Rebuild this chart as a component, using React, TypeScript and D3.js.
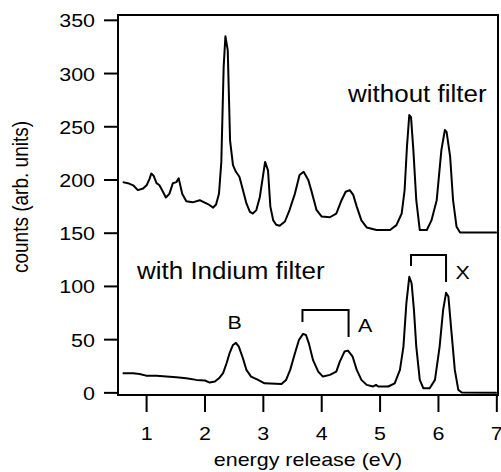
import * as d3 from "d3";

// energy (eV) and counts
const upperEnergy = [0.59, 0.68, 0.77, 0.85, 0.94, 1.0, 1.05, 1.08, 1.12, 1.17, 1.22, 1.28, 1.33, 1.39, 1.45, 1.51, 1.55, 1.61, 1.68, 1.79, 1.91, 1.97, 2.05, 2.14, 2.19, 2.24, 2.28, 2.32, 2.35, 2.39, 2.43, 2.48, 2.53, 2.59, 2.65, 2.71, 2.77, 2.82, 2.88, 2.94, 3.0, 3.03, 3.08, 3.12, 3.17, 3.22, 3.28, 3.37, 3.45, 3.54, 3.62, 3.69, 3.77, 3.82, 3.91, 4.0, 4.14, 4.25, 4.34, 4.41, 4.48, 4.54, 4.6, 4.68, 4.77, 4.94, 5.17, 5.28, 5.37, 5.42, 5.46, 5.5, 5.53, 5.57, 5.62, 5.68, 5.8, 5.88, 5.97, 6.05, 6.11, 6.14, 6.2, 6.25, 6.31, 6.37, 7.0];
const upperCounts = [198, 197, 195, 190.5, 192, 195, 201, 206, 204, 197, 195, 189, 183.6, 187, 197, 198, 201.5, 187, 180, 179, 181, 179.5, 177.4, 174, 177, 187, 217, 306, 335, 322, 237, 214, 207.7, 203, 190.5, 178, 170, 168.5, 171.7, 184, 206, 217, 209, 175, 162, 158, 157, 161, 172, 187, 204.6, 207.7, 200, 190.5, 172, 165.6, 165, 168.5, 181, 189, 190.5, 186, 175, 162, 155.4, 153, 153, 157.6, 168.5, 190.5, 231, 261, 259, 228, 181, 153, 153, 162, 181, 228, 247, 245, 222, 181, 156, 150.7, 150.7];

const lowerEnergy = [0.59, 0.77, 0.88, 0.99, 1.17, 1.34, 1.51, 1.68, 1.85, 2.0, 2.08, 2.17, 2.24, 2.31, 2.37, 2.42, 2.48, 2.53, 2.58, 2.65, 2.71, 2.79, 2.91, 3.02, 3.31, 3.39, 3.46, 3.54, 3.61, 3.68, 3.73, 3.78, 3.85, 3.94, 4.02, 4.14, 4.25, 4.31, 4.39, 4.45, 4.53, 4.6, 4.68, 4.77, 4.88, 4.93, 4.97, 5.14, 5.25, 5.34, 5.4, 5.45, 5.5, 5.54, 5.58, 5.62, 5.68, 5.74, 5.85, 5.94, 6.02, 6.08, 6.13, 6.17, 6.22, 6.28, 6.34, 6.4, 7.0];
const lowerCounts = [18.5, 18.5, 17.8, 16.2, 16, 15.3, 14.7, 13.7, 12.2, 11.6, 9.7, 10.6, 13.7, 18.5, 27.8, 37, 45, 47, 43.5, 32.5, 21.6, 15.3, 12.2, 9, 8.4, 12.2, 21.6, 37, 49.7, 55.4, 54.4, 46.5, 31, 20, 15.3, 16.9, 20, 29.4, 38.8, 39.7, 34, 21.6, 12.2, 7.5, 6, 7.5, 6, 6, 9, 21.6, 43.5, 84, 109, 103, 78, 43.5, 12.2, 4.4, 4.4, 12.2, 43.5, 78, 94, 90.6, 59, 21.6, 2.8, 0.3, 0];

const xTicks = [1, 2, 3, 4, 5, 6, 7];
const yTicks = [0, 50, 100, 150, 200, 250, 300, 350];

// brackets: [x0, x1, top, leftFoot, rightFoot]
const bracketA = [3.67, 4.46, 77.9, 66.6, 52.5];
const bracketX = [5.53, 6.13, 129.5, 119.2, 104.2];

const font = "'Liberation Sans', Arial, Helvetica, sans-serif";
const stretch = 1.13;

function Label({ x, y, size, anchor = "start", children }: any) {
  return (
    <text
      transform={`translate(${x},${y}) scale(${stretch},1)`}
      fontSize={size}
      textAnchor={anchor}
      fontFamily={font}
      fill="#000"
    >
      {children}
    </text>
  );
}

export default function App() {
  const width = 501;
  const height = 472;

  const x = d3.scaleLinear().domain([0.51, 7.02]).range([118, 498]);
  const y = d3.scaleLinear().domain([-2, 355]).range([395, 15]);

  const line = d3
    .line<[number, number]>()
    .x((d) => x(d[0]))
    .y((d) => y(d[1]));

  const upper = upperEnergy.map((e, i) => [e, upperCounts[i]] as [number, number]);
  const lower = lowerEnergy.map((e, i) => [e, lowerCounts[i]] as [number, number]);

  const bracket = (b: number[]) =>
    `M${x(b[0])},${y(b[3])}V${y(b[2])}H${x(b[1])}V${y(b[4])}`;

  const [x0, x1] = x.range();
  const [y0, y1] = y.range();

  return (
    <svg
      width={width}
      height={height}
      style={{ position: "absolute", left: 0, top: 0, background: "#fff" }}
    >
      <rect x={x0} y={y1} width={x1 - x0} height={y0 - y1} fill="none" stroke="#000" strokeWidth={2} />

      {yTicks.map((t) => (
        <g key={"y" + t}>
          <line x1={x0 - 14} x2={x0} y1={y(t)} y2={y(t)} stroke="#000" strokeWidth={2} />
          <Label x={x0 - 23} y={y(t) + 7} size={19} anchor="end">
            {t}
          </Label>
        </g>
      ))}

      {xTicks.map((t) => (
        <g key={"x" + t}>
          <line x1={x(t)} x2={x(t)} y1={y0} y2={y0 + 17} stroke="#000" strokeWidth={2} />
          <Label x={x(t)} y={440} size={19} anchor="middle">
            {t}
          </Label>
        </g>
      ))}

      <Label x={(x0 + x1) / 2} y={466} size={19} anchor="middle">
        energy release (eV)
      </Label>
      <text
        transform={`translate(28,197) scale(${stretch},1) rotate(-90)`}
        fontSize={19}
        textAnchor="middle"
        fontFamily={font}
      >
        counts (arb. units)
      </text>

      <path d={line(upper) || ""} fill="none" stroke="#000" strokeWidth={2} strokeLinejoin="round" />
      <path d={line(lower) || ""} fill="none" stroke="#000" strokeWidth={2} strokeLinejoin="round" />

      <path d={bracket(bracketA)} fill="none" stroke="#000" strokeWidth={2} />
      <path d={bracket(bracketX)} fill="none" stroke="#000" strokeWidth={2} />

      <Label x={x(4.45)} y={y(273.3)} size={23}>without filter</Label>
      <Label x={x(0.835)} y={y(107)} size={23}>with Indium filter</Label>
      <Label x={x(2.51)} y={y(60)} size={19} anchor="middle">B</Label>
      <Label x={x(4.62)} y={y(57.2)} size={19}>A</Label>
      <Label x={x(6.29)} y={y(107)} size={19}>X</Label>
    </svg>
  );
}
